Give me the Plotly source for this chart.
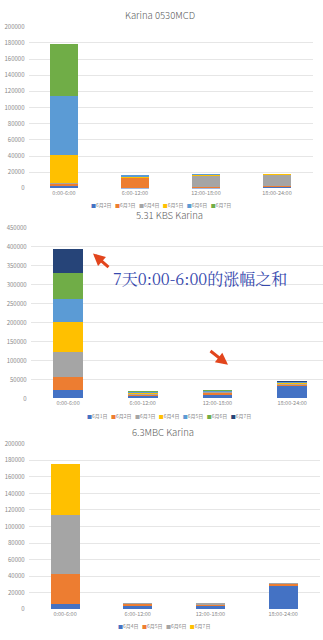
import plotly.graph_objects as go

W, H = 323, 640

categories = ["0:00-6:00", "6:00-12:00", "12:00-18:00", "18:00-24:00"]

# Chart 1: Karina 0530MCD
c1_title = "Karina 0530MCD"
c1_series = ["6月2日", "6月3日", "6月4日", "6月5日", "6月6日", "6月7日"]
c1_values = [
    [4500, 1000, 1000, 3000],
    [1500, 12500, 300, 300],
    [1000, 500, 15000, 14500],
    [34000, 1000, 1500, 200],
    [73000, 2000, 200, 0],
    [65000, 0, 0, 0],
]
c1_ticks = [0, 20000, 40000, 60000, 80000, 100000, 120000, 140000, 160000, 180000, 200000]

# Chart 2: 5.31 KBS Karina
c2_title = "5.31 KBS Karina"
c2_series = ["6月1日", "6月2日", "6月3日", "6月4日", "6月5日", "6月6日", "6月7日"]
c2_values = [
    [22000, 8000, 12000, 34000],
    [34000, 3000, 4000, 4000],
    [67000, 2500, 2000, 3000],
    [79000, 1500, 1500, 2000],
    [60000, 3000, 1000, 1000],
    [69000, 500, 1000, 1500],
    [62000, 0, 0, 500],
]
c2_ticks = [0, 50000, 100000, 150000, 200000, 250000, 300000, 350000, 400000, 450000]

# Chart 3: 6.3MBC Karina
c3_title = "6.3MBC Karina"
c3_series = ["6月4日", "6月5日", "6月6日", "6月7日"]
c3_values = [
    [6000, 3500, 3500, 28500],
    [36500, 3500, 3000, 2500],
    [72000, 500, 500, 300],
    [61500, 0, 0, 0],
]
c3_ticks = c1_ticks

note_text = "7天0:00-6:00的涨幅之和"

pal1 = ["#4472C4", "#ED7D31", "#A5A5A5", "#FFC000", "#5B9BD5", "#70AD47"]
pal2 = ["#4472C4", "#ED7D31", "#A5A5A5", "#FFC000", "#5B9BD5", "#70AD47", "#264478"]
pal3 = ["#4472C4", "#ED7D31", "#A5A5A5", "#FFC000"]

FONT = "Noto Sans CJK SC, Noto Sans, sans-serif"
TICKC = "#8a8a8a"
GRID = "#e6e6e6"

def px_x(p):
    return p / W

def px_y(p):
    return 1 - p / H

fig = go.Figure()

charts = [
    (c1_series, c1_values, pal1, "x", "y"),
    (c2_series, c2_values, pal2, "x2", "y2"),
    (c3_series, c3_values, pal3, "x3", "y3"),
]
for names, vals, pal, xa, ya in charts:
    for n, v, c in zip(names, vals, pal):
        fig.add_trace(go.Bar(x=categories, y=v, name=n, marker=dict(color=c, line=dict(width=0)),
                             xaxis=xa, yaxis=ya, showlegend=False))

def xaxis(dom, rng, anchor):
    return dict(domain=dom, range=rng, anchor=anchor, showgrid=False, showline=False,
                zeroline=False, ticks="", tickfont=dict(size=5.5, color=TICKC, family=FONT),
                fixedrange=True)

def yaxis(dom, rng, ticks, anchor):
    return dict(domain=dom, range=rng, anchor=anchor, tickvals=ticks,
                ticktext=[str(t) for t in ticks], showgrid=True, gridcolor=GRID, gridwidth=1,
                zeroline=False, showline=False, ticks="", ticklabelstandoff=3,
                tickfont=dict(size=6, color=TICKC, family=FONT), fixedrange=True)

fig.update_layout(
    width=W, height=H, margin=dict(l=0, r=0, t=0, b=0),
    paper_bgcolor="white", plot_bgcolor="white",
    barmode="stack", bargap=0.6, showlegend=False,
    font=dict(family=FONT),
    xaxis=xaxis([px_x(28.5), px_x(312.5)], [-0.5, 3.5], "y"),
    yaxis=yaxis([px_y(186), px_y(22)], [0, 200000], c1_ticks, "x"),
    xaxis2=xaxis([px_x(30.7), 1.0], [-0.5, -0.5 + (W - 30.7) / 74.7], "y2"),
    yaxis2=yaxis([px_y(399), px_y(226)], [0, 450000], c2_ticks, "x2"),
    xaxis3=xaxis([px_x(28.7), px_x(319.5)], [-0.5, 3.5], "y3"),
    yaxis3=yaxis([px_y(613), px_y(445)], [0, 200000], c3_ticks, "x3"),
)

anns = []
for title, cx, cy in [(c1_title, 160, 10), (c2_title, 169, 213), (c3_title, 163, 433)]:
    anns.append(dict(text=title, x=px_x(cx), y=px_y(cy), xref="paper", yref="paper",
                     showarrow=False, xanchor="center", yanchor="middle",
                     font=dict(size=9.5, color="#595959", family=FONT, weight=300)))

for names, pal, cx, cy in [(c1_series, pal1, 161, 203), (c2_series, pal2, 169, 417), (c3_series, pal3, 164, 630)]:
    parts = [f"<span style='color:{c}'>■</span>{n}" for n, c in zip(names, pal)]
    anns.append(dict(text="&nbsp;&nbsp;&nbsp;".join(parts), x=px_x(cx), y=px_y(cy),
                     xref="paper", yref="paper", showarrow=False, xanchor="center",
                     yanchor="middle", font=dict(size=5, color=TICKC, family=FONT)))

anns.append(dict(text=note_text, x=px_x(200), y=px_y(277), xref="paper", yref="paper",
                 showarrow=False, xanchor="center", yanchor="middle",
                 font=dict(size=16, color="#3548ad", family="Noto Serif CJK SC, Noto Sans CJK SC, serif")))

ARROW = "#e2451d"
anns.append(dict(text="", x=px_x(93), y=px_y(252), xref="paper", yref="paper",
                 showarrow=True, ax=17, ay=15, arrowhead=2, arrowsize=0.8, arrowwidth=3,
                 arrowcolor=ARROW))
anns.append(dict(text="", x=px_x(228), y=px_y(365), xref="paper", yref="paper",
                 showarrow=True, ax=-19, ay=-15, arrowhead=2, arrowsize=0.8, arrowwidth=3,
                 arrowcolor=ARROW))

fig.update_layout(annotations=anns)
fig.write_html("out.html")
